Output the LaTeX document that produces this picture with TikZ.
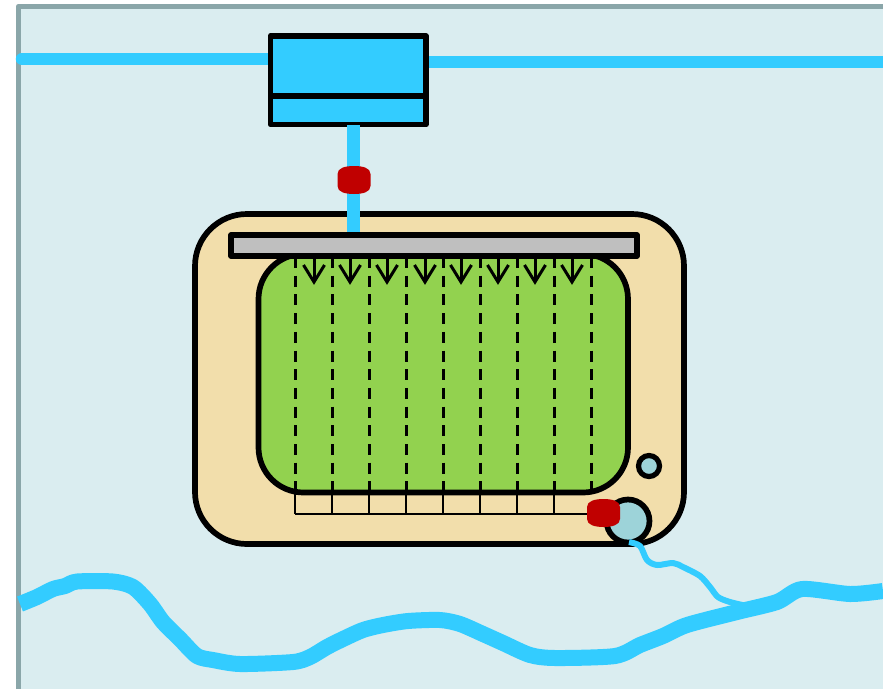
\documentclass[tikz,border=0pt]{standalone}
\definecolor{bgblue}{HTML}{DAEDF0}
\definecolor{edgegray}{HTML}{8AA6A9}
\definecolor{water}{HTML}{33CCFF}
\definecolor{sand}{HTML}{F2DEAB}
\definecolor{grass}{HTML}{92D24F}
\definecolor{barg}{HTML}{BFBFBF}
\definecolor{valvered}{HTML}{C00000}
\definecolor{pondb}{HTML}{9DD3D9}
\tikzset{
  px/.style={inner sep=0pt,outer sep=0pt,anchor=north west},
  outl/.style={draw=black,line width=5.7pt,line join=round},
  pipe/.style={draw=water,line width=12.5pt},
  river/.style={draw=water,line width=16pt},
  stream/.style={draw=water,line width=6pt},
  valve/.style={fill=valvered,draw=none},
  dashl/.style={draw=black,line width=3pt,dash pattern=on 11pt off 7.7pt},
  drop/.style={draw=black,line width=3pt,line join=miter},
  grid/.style={draw=black,line width=2pt}
}
\begin{document}
\begin{tikzpicture}[x=1pt,y=-1pt]
\useasboundingbox (0,0) rectangle (883,689);
\fill[white] (0,0) rectangle (883,689);
\fill[bgblue] (18,6) rectangle (883,689);
\draw[edgegray,line width=5.5pt,line join=round] (18.5,689) -- (18.5,6.5) -- (883,6.5);
% top pipes
\draw[pipe,line cap=round] (22,59) -- (272,59);
\draw[pipe] (424,62) -- (883,62);
% tank
\node[px,outl,fill=water,minimum width=155.5pt,minimum height=88.5pt] (tank) at (270.5,36) {};
\draw[black,line width=5.5pt] (tank.west |- 0,96) -- (tank.east |- 0,96);
% pond
\node[px,outl,fill=sand,rounded corners=52pt,minimum width=489pt,minimum height=330pt] (pond) at (195,214) {};
% bottom grid
\draw[grid] (295,514) -- (591,514);
\foreach \x in {295,332,369,406,443,480,517,554}{
  \draw[grid] (\x,490) -- (\x,514);
}
% supply pipe
\coordinate (pipetop) at (353.5,125);
\coordinate (pipebot) at (353.5,236);
\draw[pipe] (pipetop) -- (pipebot);
% field
\node[px,outl,fill=grass,rounded corners=45pt,minimum width=369.5pt,minimum height=238.5pt] (field) at (258.5,254) {};
% furrows
\foreach \x in {295,332,369,406,443,480,517,554,591}{
  \draw[dashl] (\x,257) -- (\x,492);
}
\foreach \x in {314,350,387,425,461,498,535,572}{
  \draw[drop] (\x,255) -- (\x,281);
  \draw[drop] (\x-10.5,265) -- (\x,282) -- (\x+10.5,265);
}
% distribution bar
\node[px,outl,fill=barg,minimum width=406pt,minimum height=21pt] (bar) at (231,235) {};
% small pond and well
\node[circle,draw=black,line width=5.7pt,fill=pondb,minimum size=43pt,inner sep=0pt,outer sep=0pt] (basin) at (628,521) {};
\node[circle,draw=black,line width=5.2pt,fill=pondb,minimum size=21pt,inner sep=0pt,outer sep=0pt] (well) at (649,466) {};
% river
\draw[river,line join=round] plot[smooth,tension=0.45] coordinates {(20,604) (37,597) (53,589) (65,586) (77,581.5) (113,581.5) (133,587) (150,604) (163,622) (180,639) (197,656) (213,660) (240,664) (293,662) (310,657) (327,647) (343,639) (363,630) (383,625) (408,621) (440,620) (460,624) (483,634) (503,643) (530,655) (555,658) (615,656) (640,645) (663,636) (687,625) (737,612) (777,602) (802,589) (850,594) (883,591)};
% stream
\draw[stream,line join=round] plot[smooth,tension=0.5] coordinates {(629,542) (640,546) (647,560) (657,565) (673,563) (683,567) (700,576) (710,587) (718,597) (730,602) (747,606)};
% valves
\path[valve] (337.5,174) .. controls (337.5,168) and (345,166) .. (354,166) .. controls (363,166) and (370.5,168) .. (370.5,174) -- (370.5,186) .. controls (370.5,192) and (363,194) .. (354,194) .. controls (345,194) and (337.5,192) .. (337.5,186) -- cycle;
\path[valve] (587,507) .. controls (587,501) and (595,499) .. (603.5,499) .. controls (612,499) and (620,501) .. (620,507) -- (620,519) .. controls (620,525) and (612,527) .. (603.5,527) .. controls (595,527) and (587,525) .. (587,519) -- cycle;
\end{tikzpicture}
\end{document}
